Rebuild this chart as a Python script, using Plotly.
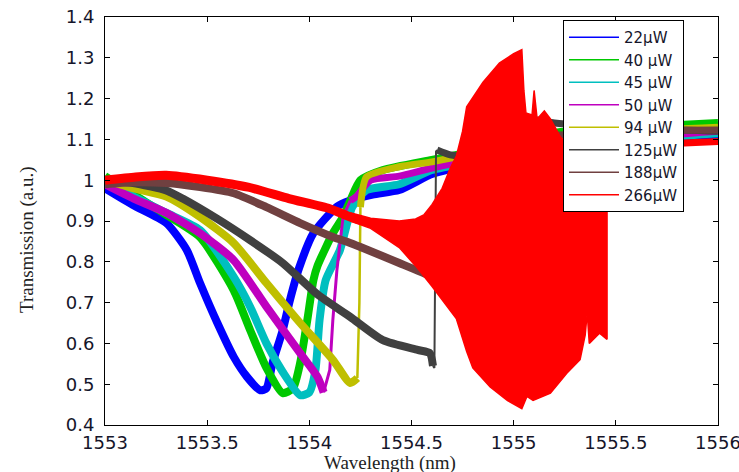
import plotly.graph_objects as go

# ---------------- data ----------------
labels = ["22\u03bcW", "40 \u03bcW", "45 \u03bcW", "50 \u03bcW", "94 \u03bcW", "125\u03bcW", "188\u03bcW", "266\u03bcW"]
colors = ["#0000FF", "#00C800", "#00BFBF", "#BF00BF", "#BFBF00", "#404040", "#704040", "#FF0000"]

x_tick_vals = [1553, 1553.5, 1554, 1554.5, 1555, 1555.5, 1556]
x_tick_text = ["1553", "1553.5", "1554", "1554.5", "1555", "1555.5", "1556"]
y_tick_vals = [0.4, 0.5, 0.6, 0.7, 0.8, 0.9, 1.0, 1.1, 1.2, 1.3, 1.4]
y_tick_text = ["0.4", "0.5", "0.6", "0.7", "0.8", "0.9", "1", "1.1", "1.2", "1.3", "1.4"]

w_22 = [1553.0, 1553.137, 1553.30, 1553.40, 1553.465, 1553.55, 1553.63, 1553.695, 1553.76, 1553.79,
        1553.82, 1553.87, 1553.905, 1553.95, 1554.02, 1554.135, 1554.2,
        1554.31, 1554.44, 1554.6, 1554.74, 1555.0, 1555.3, 1555.6, 1556.0]
t_22 = [0.98, 0.939, 0.895, 0.829, 0.748, 0.65, 0.567, 0.518, 0.485, 0.49,
        0.552, 0.633, 0.706, 0.785, 0.87, 0.935, 0.95,
        0.965, 0.976, 1.015, 1.032, 1.055, 1.075, 1.09, 1.105]

w_40 = [1553.0, 1553.14, 1553.3, 1553.465, 1553.63, 1553.71, 1553.79, 1553.87, 1553.92,
        1553.955, 1553.99, 1554.02, 1554.04, 1554.115, 1554.165, 1554.2, 1554.25,
        1554.36, 1554.6, 1554.8, 1555.23, 1555.6, 1556.0]
t_40 = [1.01, 0.965, 0.915, 0.86, 0.73, 0.633, 0.54, 0.478, 0.49,
        0.552, 0.657, 0.755, 0.79, 0.87, 0.91, 0.95, 1.0,
        1.025, 1.05, 1.07, 1.118, 1.13, 1.14]

w_45 = [1553.0, 1553.14, 1553.3, 1553.465, 1553.63, 1553.71, 1553.79, 1553.87, 1553.955, 1554.0,
        1554.03, 1554.05, 1554.08, 1554.15, 1554.21, 1554.28,
        1554.44, 1554.6, 1554.8, 1555.2, 1555.6, 1556.0]
t_45 = [1.0, 0.96, 0.92, 0.878, 0.763, 0.69, 0.60, 0.53, 0.473, 0.48,
        0.535, 0.657, 0.755, 0.829, 0.934, 0.976,
        0.99, 1.025, 1.045, 1.08, 1.10, 1.115]

w_50 = [1553.0, 1553.14, 1553.3, 1553.465, 1553.63, 1553.79, 1553.955, 1554.04, 1554.07,
        1554.10, 1554.115, 1554.135, 1554.165, 1554.2,
        1554.23, 1554.3, 1554.44, 1554.6, 1554.8, 1555.2, 1555.6, 1556.0]
t_50 = [0.99, 0.955, 0.92, 0.87, 0.804, 0.69, 0.576, 0.518, 0.48,
        0.535, 0.657, 0.78, 0.91, 0.95,
        0.96, 1.0, 1.01, 1.03, 1.05, 1.085, 1.105, 1.12]

w_94 = [1553.0, 1553.14, 1553.30, 1553.465, 1553.63, 1553.79, 1553.955, 1554.115, 1554.2, 1554.235,
        1554.245, 1554.25,
        1554.28, 1554.44, 1554.6, 1554.8, 1555.2, 1555.6, 1556.0]
t_94 = [1.0, 0.98, 0.96, 0.91, 0.846, 0.748, 0.65, 0.56, 0.503, 0.515,
        0.70, 0.934,
        1.008, 1.033, 1.045, 1.065, 1.10, 1.12, 1.13]

w_125 = [1553.0, 1553.137, 1553.30, 1553.38, 1553.55, 1553.71, 1553.87, 1554.04, 1554.2, 1554.36,
         1554.53, 1554.59, 1554.605, 1554.612, 1554.62,
         1554.625, 1554.69, 1554.74, 1554.9, 1555.05, 1555.2, 1555.5, 1556.0]
t_125 = [1.0, 0.993, 0.975, 0.955, 0.905, 0.853, 0.797, 0.72, 0.665, 0.608,
         0.584, 0.576, 0.545, 0.54, 1.07,
         1.074, 1.062, 1.06, 1.08, 1.15, 1.14, 1.13, 1.12]

w_188 = [1553.0, 1553.137, 1553.30, 1553.465, 1553.63, 1553.79, 1553.955, 1554.115, 1554.2, 1554.44,
         1554.6, 1554.69, 1554.8, 1554.93, 1554.95, 1555.5, 1556.0]
t_188 = [0.99, 0.995, 0.993, 0.983, 0.968, 0.934, 0.895, 0.861, 0.846, 0.797,
         0.763, 0.738, 0.72, 0.70, 1.10, 1.12, 1.123]

w_266 = [1553.0, 1553.15, 1553.3, 1553.5, 1553.7, 1553.9, 1554.1, 1554.2, 1554.3, 1554.44]
t_266 = [1.0, 1.008, 1.012, 1.0, 0.983, 0.955, 0.93, 0.91, 0.895, 0.87]
w_266_tail = [1555.44, 1555.7, 1556.0]
t_266_tail = [1.08, 1.088, 1.095]

# envelope of the 266 uW oscillation
osc_up_w = [1554.2, 1554.3, 1554.44, 1554.52, 1554.56, 1554.6, 1554.65, 1554.69, 1554.72, 1554.75,
            1554.77, 1554.85, 1554.93, 1555.0, 1555.04, 1555.05, 1555.06, 1555.09, 1555.10,
            1555.115, 1555.15, 1555.18, 1555.23, 1555.3, 1555.4, 1555.457]
osc_up_t = [0.92, 0.907, 0.90, 0.905, 0.915, 0.94, 0.98, 1.03, 1.06, 1.12,
            1.18, 1.24, 1.287, 1.31, 1.32, 1.22, 1.165, 1.16, 1.22,
            1.15, 1.17, 1.15, 1.105, 1.07, 1.03, 1.0]
osc_lo_w = [1554.2, 1554.3, 1554.44, 1554.52, 1554.6, 1554.66, 1554.72, 1554.77, 1554.80, 1554.885,
            1554.97, 1555.04, 1555.065, 1555.095, 1555.18, 1555.26, 1555.325, 1555.35, 1555.36,
            1555.37, 1555.42, 1555.457]
osc_lo_t = [0.90, 0.882, 0.835, 0.79, 0.74, 0.70, 0.66, 0.58, 0.54, 0.493,
            0.46, 0.44, 0.47, 0.46, 0.478, 0.527, 0.56, 0.62, 0.675,
            0.60, 0.625, 0.61]

series_w = [w_22, w_40, w_45, w_50, w_94, w_125, w_188, w_266]
series_t = [t_22, t_40, t_45, t_50, t_94, t_125, t_188, t_266]
# index range of the steep jump drawn thinner
jumps = [None, None, None, (8, 14), (9, 12), (12, 16), (13, 15), None]
jump_width = [0, 0, 0, 3, 2.5, 2, 1.5, 0]
LW = 8

fig = go.Figure()

def add_line(x, y, c, wd, shape="spline"):
    fig.add_trace(go.Scatter(x=x, y=y, mode="lines",
                             line=dict(color=c, width=wd, shape=shape, smoothing=0.6),
                             showlegend=False, hoverinfo="skip"))

for i in range(8):
    w, t = series_w[i], series_t[i]
    c = colors[i]
    if jumps[i] is None:
        add_line(w, t, c, LW + (1 if i == 7 else 0))
    else:
        a, b = jumps[i]
        add_line(w[:a + 1], t[:a + 1], c, LW)
        add_line(w[a:b], t[a:b], c, jump_width[i], shape="linear")
        add_line(w[b - 1:], t[b - 1:], c, LW - 1)
    if i == 7:
        fig.add_trace(go.Scatter(x=osc_up_w + osc_lo_w[::-1], y=osc_up_t + osc_lo_t[::-1],
                                 mode="lines", fill="toself", fillcolor=c,
                                 line=dict(color=c, width=1.5), showlegend=False, hoverinfo="skip"))
        add_line(w_266_tail, t_266_tail, c, LW - 1)

# legend entries
for lab, c in zip(labels, colors):
    fig.add_trace(go.Scatter(x=[None], y=[None], mode="lines", name=lab,
                             line=dict(color=c, width=1.5)))

tick_font = dict(family="DejaVu Sans, sans-serif", size=18, color="#15152a")
title_font = dict(family="Liberation Serif, Times New Roman, serif", size=19, color="#222")

axis_common = dict(showline=True, linecolor="black", linewidth=1, mirror="ticks",
                   ticks="inside", ticklen=5, tickcolor="black", showgrid=False, zeroline=False,
                   tickfont=tick_font, tickmode="array", ticklabeloverflow="allow")

fig.update_xaxes(range=[1553, 1556], tickvals=x_tick_vals, ticktext=x_tick_text,
                 ticklabelstandoff=1, **axis_common)
fig.update_yaxes(range=[0.4, 1.4], tickvals=y_tick_vals, ticktext=y_tick_text,
                 ticklabelstandoff=6, **axis_common)

fig.add_annotation(text="Wavelength (nm)", xref="paper", yref="paper",
                   x=(390 - 105) / 613, y=-(463 - 425) / 408, xanchor="center", yanchor="middle",
                   showarrow=False, font=title_font)
fig.add_annotation(text="Transmission (a.u.)", xref="paper", yref="paper",
                   x=-(105 - 27) / 613, y=1 - (240 - 17) / 408, xanchor="center", yanchor="middle",
                   textangle=-90, showarrow=False, font=title_font)

fig.update_layout(
    width=739, height=472,
    margin=dict(l=105, r=21, t=17, b=47, autoexpand=False),
    paper_bgcolor="white", plot_bgcolor="white",
    legend=dict(x=(563 - 105) / 613, y=1 - (20 - 17) / 408, xanchor="left", yanchor="top",
                bgcolor="white", bordercolor="black", borderwidth=1,
                itemwidth=50, tracegroupgap=0,
                font=dict(family="DejaVu Sans, sans-serif", size=15, color="#15152a")),
)

fig.write_html("out.html", config={"displayModeBar": False},
               post_script="document.body.style.margin='0';")
